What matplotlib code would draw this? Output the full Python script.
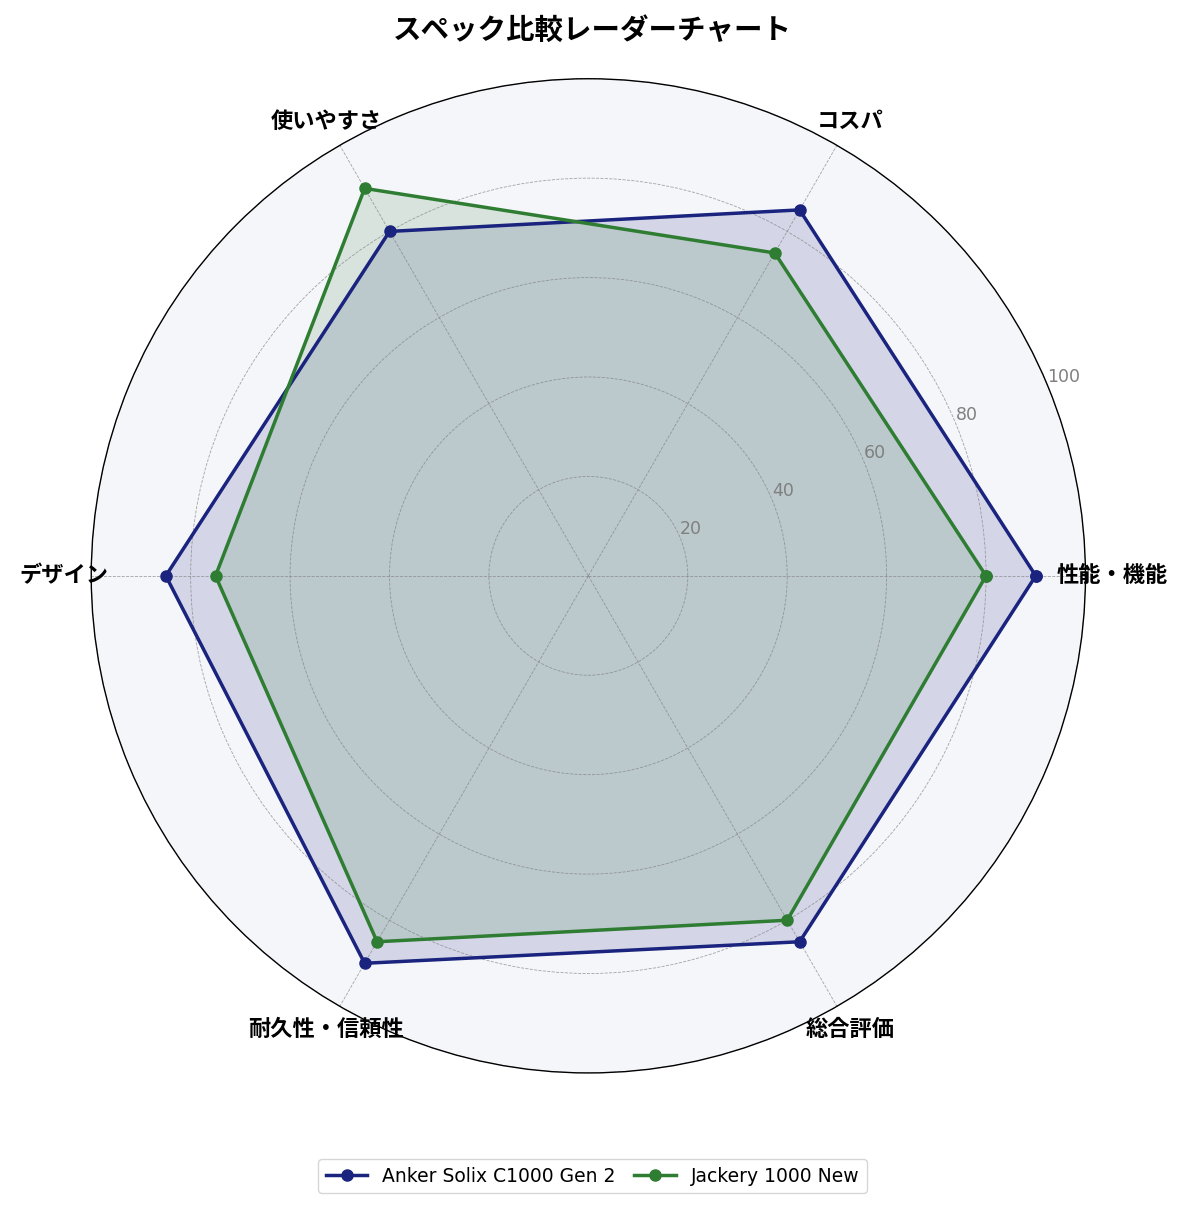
import numpy as np
import matplotlib
matplotlib.use("Agg")
import matplotlib.pyplot as plt

plt.rcParams['font.family'] = ['Noto Sans CJK JP', 'DejaVu Sans']

categories = ["性能・機能", "コスパ", "使いやすさ", "デザイン", "耐久性・信頼性", "総合評価"]
anker = [90, 85, 80, 85, 90, 85]
jackery = [80, 75, 90, 75, 85, 80]
series_names = ["Anker Solix C1000 Gen 2", "Jackery 1000 New"]
series_colors = ["#1a237e", "#2e7d32"]
r_ticks = [20, 40, 60, 80, 100]

angles = np.linspace(0, 2 * np.pi, len(categories), endpoint=False)
closed_angles = np.concatenate([angles, angles[:1]])

fig = plt.figure(figsize=(11.85, 12.11), dpi=100)
ax = fig.add_axes([0.077, 0.114, 0.839, 0.821], projection="polar")
ax.set_facecolor("#f5f6fa")

for vals, name, col in zip([anker, jackery], series_names, series_colors):
    v = np.concatenate([vals, vals[:1]])
    ax.plot(closed_angles, v, color=col, linewidth=2.5, marker="o", markersize=8, label=name)
    ax.fill(closed_angles, v, color=col, alpha=0.15)

ax.set_ylim(0, 100)
ax.set_yticks(r_ticks)
ax.set_yticklabels([str(t) for t in r_ticks], color="grey", fontsize=12.5,
                   family=['DejaVu Sans'])
ax.set_rlabel_position(22.5)
ax.set_xticks(angles)
ax.set_xticklabels(categories, fontsize=16, fontweight="bold")
ax.tick_params(axis="x", pad=9)
ax.grid(color="grey", linestyle="--", linewidth=0.6, alpha=0.7)
ax.spines["polar"].set_color("black")
ax.spines["polar"].set_linewidth(1.0)

fig.suptitle("スペック比較レーダーチャート", fontsize=20.5, fontweight="bold", y=0.986)
fig.legend(loc="lower center", ncol=2, prop={'family': 'DejaVu Sans', 'size': 13.5},
           bbox_to_anchor=(0.5, 0.007), columnspacing=1.0, handlelength=2.2)

fig.savefig("out.png", dpi=100)
